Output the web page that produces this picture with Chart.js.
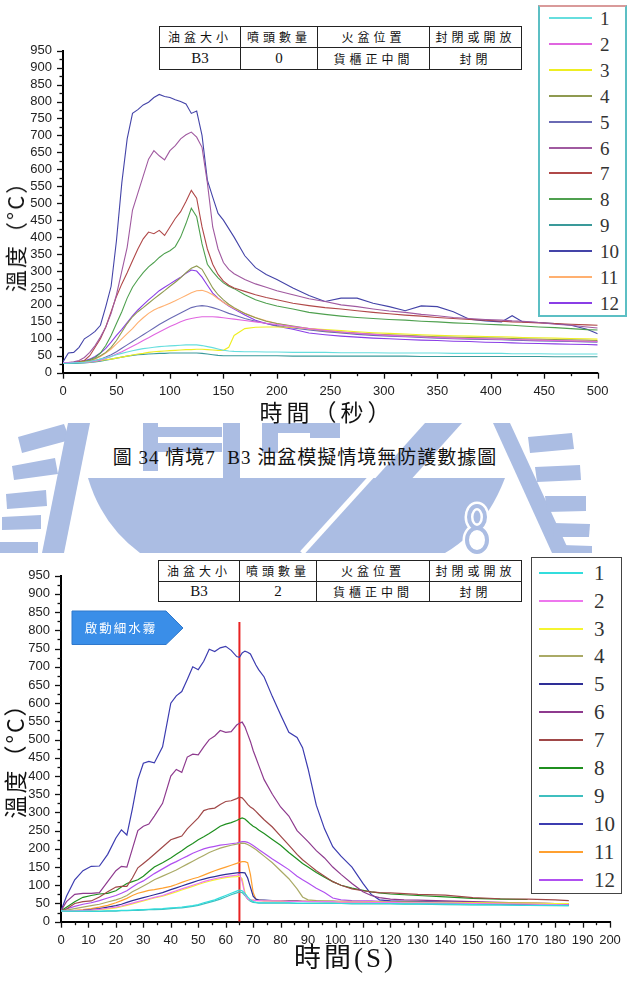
<!DOCTYPE html>
<html><head><meta charset="utf-8">
<script src="https://cdn.jsdelivr.net/npm/chart.js@4.4.1/dist/chart.umd.min.js"></script>
<style>
html,body{margin:0;padding:0;background:#fff;}
#page{position:relative;width:627px;height:991px;overflow:hidden;background:#fff;}
.box{position:absolute;}
table.info{position:absolute;border-collapse:collapse;font-family:"Noto Sans CJK TC",sans-serif;font-size:12px;color:#111;z-index:3;background:#fff;}
table.info td{border:1.5px solid #222;text-align:center;padding:0;letter-spacing:4px;line-height:1;}
table.info td.num{font-family:"Liberation Serif",serif;font-size:15px;letter-spacing:0;}
.legend{position:absolute;background:#fff;z-index:3;box-sizing:border-box;}
.legend .ln{position:absolute;height:2px;}
.legend .lb{position:absolute;font-family:"Liberation Serif",serif;color:#333;line-height:1;transform:translateY(-50%);}
.ttl{position:absolute;white-space:nowrap;line-height:1;color:#111;z-index:3;}
</style>
</head>
<body>
<div id="page">
<svg width="627" height="991" style="position:absolute;left:0;top:0;z-index:0">
 <g fill="#abbde3">
  <polygon points="18,437 64,424 70,440 22,453"/>
  <polygon points="12,466 55,458 58,474 14,480"/>
  <polygon points="6,494 46,490 47,506 7,509"/>
  <polygon points="2,517 41,515 41,529 2,530"/>
  <polygon points="0,542 38,542 38,553 0,553"/>
  <polygon points="68,423 90,423 64,553 42,553"/>
  <rect x="143" y="423" width="15" height="48"/>
  <rect x="158" y="427" width="64" height="10"/>
  <rect x="158" y="443" width="64" height="9"/>
  <rect x="223" y="423" width="17" height="55"/>
  <rect x="262" y="423" width="58" height="10"/>
  <rect x="262" y="433" width="16" height="20"/>
  <rect x="310" y="423" width="30" height="15"/>
  <path d="M88,478 L505,478 Q485,530 445,553 L140,553 Q102,525 88,478 Z"/>
  <polygon points="425,423 462,423 345,553 308,553"/>
  <polygon points="493,423 510,423 570,553 552,553"/>
  <polygon points="528,437 572,433 574,449 530,453"/>
  <polygon points="535,467 580,465 581,480 537,482"/>
  <polygon points="545,496 586,496 586,511 547,512"/>
  <polygon points="553,523 590,524 589,537 554,537"/>
  <polygon points="562,545 592,546 592,553 563,553"/>
 </g>
 <line x1="420" y1="423" x2="302" y2="553" stroke="#fff" stroke-width="5"/>
 <g fill="none" stroke="#fff" stroke-width="9">
  <ellipse cx="477" cy="517" rx="8" ry="11"/>
  <ellipse cx="477" cy="540" rx="10" ry="12"/>
 </g>
 <g fill="none" stroke="#abbde3" stroke-width="4">
  <ellipse cx="477" cy="517" rx="8" ry="11"/>
  <ellipse cx="477" cy="540" rx="10" ry="12"/>
 </g>
</svg>

<div class="box" style="left:0;top:0;width:627px;height:430px;z-index:1"><canvas id="c1"></canvas></div>
<div class="box" style="left:0;top:540px;width:627px;height:451px;z-index:1"><canvas id="c2"></canvas></div>

<table class="info" style="left:159px;top:26px;">
 <tr style="height:21px"><td style="width:80px">油盆大小</td><td style="width:76px">噴頭數量</td><td style="width:111px">火盆位置</td><td style="width:91px">封閉或開放</td></tr>
 <tr style="height:22px"><td class="num">B3</td><td class="num">0</td><td>貨櫃正中間</td><td>封閉</td></tr>
</table>
<table class="info" style="left:158px;top:560px;">
 <tr style="height:21px"><td style="width:80px">油盆大小</td><td style="width:76px">噴頭數量</td><td style="width:112px">火盆位置</td><td style="width:91px">封閉或開放</td></tr>
 <tr style="height:20px"><td class="num">B3</td><td class="num">2</td><td>貨櫃正中間</td><td>封閉</td></tr>
</table>

<div id="leg1" class="legend" style="left:538px;top:5px;width:89px;height:312px;border:2px solid #5cbfc4;border-top-color:#d99a9a;"></div>
<div id="leg2" class="legend" style="left:531px;top:557px;width:91px;height:337px;border:1.5px solid #444;"></div>

<svg width="627" height="991" style="position:absolute;left:0;top:0;z-index:4;pointer-events:none">
 <polygon points="72,611 166,611 183,628 166,644.5 72,644.5" fill="#3a8ee8" stroke="#2f78cc" stroke-width="1"/>
 <text x="121" y="633" fill="#fff" font-family="Noto Sans CJK TC" font-size="12.5" letter-spacing="2" text-anchor="middle">啟動細水霧</text>
</svg>

<div class="ttl" style="left:327px;top:411px;transform:translate(-50%,-50%);font-family:'Noto Sans CJK TC';font-size:23px;letter-spacing:4px;">時間（秒）</div>
<div class="ttl" style="left:14px;top:231px;transform:translate(-50%,-50%) rotate(-90deg);font-family:'Noto Sans CJK TC';font-size:22px;letter-spacing:2px;">溫度（°C）</div>
<div class="ttl" style="left:305px;top:457px;transform:translate(-50%,-50%);font-family:'Liberation Serif','Noto Sans CJK TC';font-size:19px;letter-spacing:1px;">圖 34 情境7&nbsp; B3 油盆模擬情境無防護數據圖</div>
<div class="ttl" style="left:345px;top:958px;transform:translate(-50%,-50%);font-family:'Liberation Serif','Noto Sans CJK TC';font-size:27px;letter-spacing:3px;">時間(S)</div>
<div class="ttl" style="left:14px;top:755px;transform:translate(-50%,-50%) rotate(-90deg);font-family:'Noto Sans CJK TC';font-size:23px;letter-spacing:2px;">溫度（°C）</div>
</div>

<script>
// ---------- Figure 34 (no protection), time in seconds ----------
const times1 = [0,5,10,15,20,25,30,35,40,45,50,55,60,65,70,75,80,85,90,95,100,105,110,115,120,125,130,135,140,145,150,155,160,170,180,190,200,215,230,245,260,275,290,305,320,335,350,365,380,395,410,420,430,445,460,475,490,500];
const a1  = [28,28,29,30,31,33,36,40,44,48,53,57,61,65,68,71,73,75,77,78,79,80,81,82,82,82,80,77,74,70,66,64,63,62,62,61,61,60,60,60,59,59,59,58,58,58,58,57,57,57,57,56,56,56,55,55,55,55];
const a2  = [30,30,30,30,30,32,34,37,42,48,55,62,70,78,86,95,103,112,120,128,136,143,150,156,160,163,165,165,165,164,162,160,158,154,150,146,142,136,130,125,120,116,113,110,108,106,104,102,101,100,99,98,97,96,95,94,93,92];
const a3  = [30,30,30,30,31,32,34,36,38,40,43,46,49,52,55,57,60,62,63,64,65,66,67,68,68,69,69,68,67,66,66,75,110,130,134,135,135,134,130,127,124,121,118,116,114,112,110,109,108,107,106,105,104,103,102,101,100,99];
const a4  = [30,30,30,31,33,36,42,50,60,75,95,120,145,165,180,192,205,218,230,242,255,267,280,295,308,315,305,278,250,230,215,202,192,175,162,152,145,138,130,124,120,117,114,112,110,108,106,105,104,103,102,101,100,99,98,97,96,95];
const a5  = [30,30,30,30,31,33,36,40,46,53,62,72,82,92,102,112,122,132,142,151,160,168,176,184,192,196,198,196,192,187,181,175,170,160,152,145,139,132,126,121,117,113,110,108,106,104,102,100,99,98,97,96,95,94,93,92,91,90];
const a6  = [30,30,32,36,45,60,80,105,135,175,230,300,370,480,530,580,630,655,640,628,655,670,690,702,710,695,665,560,430,365,325,305,292,275,262,252,242,230,218,210,200,195,188,182,178,172,168,163,160,157,155,153,152,148,143,140,135,132];
const a7  = [30,30,31,33,36,50,75,100,135,180,225,262,295,330,365,395,415,410,420,405,430,455,475,505,538,515,430,365,320,290,270,258,250,240,230,222,215,205,198,192,188,183,178,174,170,167,163,160,157,155,152,150,149,147,145,143,141,140];
const a8  = [30,30,30,31,33,38,45,58,80,110,145,180,220,252,275,295,312,325,340,352,360,372,400,440,485,460,380,320,298,280,265,255,248,230,215,205,197,188,178,172,167,163,160,157,155,152,150,147,145,143,141,140,138,135,133,130,127,126];
const a9  = [27,27,27,28,29,30,32,34,37,40,43,46,49,51,53,54,55,56,57,57,58,58,58,58,58,58,57,55,53,51,50,50,50,50,50,50,50,49,49,49,49,49,49,49,49,48,48,48,48,48,48,48,48,48,47,47,47,47];
const a10 = [32,58,60,75,100,110,122,140,195,255,390,560,690,765,776,790,798,812,821,815,812,805,800,793,765,772,700,568,518,470,450,425,400,345,310,290,275,250,228,210,220,220,205,195,183,197,195,180,158,153,150,168,150,148,145,140,128,115];
const a11 = [30,30,30,31,32,35,40,48,58,70,85,100,115,130,148,162,175,185,192,198,205,212,220,228,236,242,243,238,230,218,208,198,190,175,163,153,145,136,128,122,118,115,112,110,108,106,104,103,102,100,99,98,97,96,95,94,93,92];
const a12 = [30,30,30,32,35,40,48,58,72,90,110,128,148,168,185,200,215,228,242,252,262,272,282,293,303,300,282,258,235,220,208,197,188,170,155,145,137,128,117,112,108,105,102,100,98,96,95,93,92,90,89,88,87,86,85,84,83,82];

// ---------- Second figure (2 nozzles, water mist starts at 65 s) ----------
const times2 = [0,2,5,8,11,14,17,20,22,24,26,28,30,32,34,37,40,42,44,46,48,50,52,54,56,58,60,62,64,65,66,67,68,69,70,71,72,74,77,80,83,86,88,90,93,96,99,102,106,110,113,116,120,125,130,140,150,160,170,180,185];
const b1  = [30,29,29,29,29,29,30,30,31,31,32,33,33,34,35,36,38,39,40,42,44,47,52,56,60,66,72,78,84,87,85,78,68,60,55,53,52,52,52,52,52,51,51,51,51,51,51,50,50,50,50,50,50,49,49,48,47,46,45,45,44];
const b2  = [30,30,30,31,32,34,37,40,43,47,51,55,59,63,67,72,80,85,90,95,100,105,110,114,118,121,124,126,128,130,110,75,62,60,59,58,58,57,57,57,56,56,56,55,55,55,55,54,54,54,53,53,53,52,52,51,50,49,48,47,46];
const b3  = [30,30,30,30,31,33,35,38,41,45,49,53,57,61,65,70,77,82,87,92,97,102,107,111,115,118,121,123,124,125,118,80,62,60,59,58,58,57,57,57,56,56,56,56,55,55,55,55,54,54,54,54,53,53,53,52,52,51,51,50,50];
const b4  = [30,32,36,40,44,48,54,60,65,72,82,90,98,106,115,125,135,142,150,158,166,174,182,190,196,202,206,210,213,215,216,215,212,208,203,198,192,180,162,140,118,90,68,60,58,57,57,56,56,55,55,55,54,54,53,53,52,51,51,50,50];
const b5  = [30,30,30,31,33,36,40,44,48,53,58,62,66,70,74,80,88,93,98,103,108,113,117,121,124,127,130,132,134,135,135,134,120,95,70,62,60,59,58,58,57,57,56,56,56,55,55,55,54,54,54,53,53,52,52,51,49,48,47,46,45];
const b6  = [30,55,75,78,78,80,110,140,152,150,200,250,262,268,290,325,400,418,410,452,460,458,480,500,510,525,520,522,540,545,548,535,515,495,470,450,430,390,350,315,290,250,235,220,195,175,150,130,105,82,72,66,62,60,59,57,55,53,51,50,49];
const b7  = [30,35,50,55,57,68,82,95,97,97,120,148,160,172,185,205,225,230,235,255,270,285,305,310,312,322,330,332,338,342,340,332,322,315,310,303,295,280,260,235,210,185,170,158,140,125,110,100,90,85,82,80,79,77,75,73,66,63,62,60,58];
const b8  = [30,40,55,67,72,76,78,85,95,105,110,115,125,138,150,162,175,185,195,206,215,225,233,242,252,262,268,272,278,282,285,282,275,268,262,258,252,242,226,210,190,172,160,150,135,122,110,100,92,86,82,79,76,74,72,68,64,62,61,null,null];
const b9  = [29,28,28,28,28,28,29,29,30,30,31,31,32,33,33,34,36,37,38,40,42,45,49,53,57,62,68,74,79,82,80,72,62,56,53,52,51,51,51,51,51,50,50,50,50,50,50,50,49,49,49,49,49,48,48,47,46,46,45,44,44];
const b10 = [30,70,115,140,152,153,185,230,252,238,310,390,435,440,436,480,600,620,632,665,700,692,715,748,742,752,756,745,728,726,738,743,740,735,720,705,692,672,618,568,520,506,478,420,320,255,206,180,150,105,75,60,57,56,55,54,52,51,50,49,48];
const b11 = [30,30,31,33,36,40,45,52,58,64,72,78,82,86,88,92,97,102,108,113,118,122,128,134,140,145,150,155,160,163,165,165,162,130,80,62,59,58,58,57,57,57,56,56,56,56,55,55,55,55,54,54,54,54,53,53,52,51,50,50,50];
const b12 = [30,35,42,48,52,58,65,72,78,85,95,105,112,122,132,145,158,165,173,180,188,194,200,204,207,210,212,214,216,218,220,220,218,214,209,204,198,188,172,158,143,125,115,106,92,80,65,60,58,57,57,56,56,55,55,54,53,52,51,50,49];

const sprayTime = 65;       // 啟動細水霧
const sprayLineTop = 823;

const seriesLabels = ['1','2','3','4','5','6','7','8','9','10','11','12'];
const colors1 = ['#66dede','#e066e0','#eeee22','#8f9a50','#6a6ab4','#a05aa0','#b04848','#4fa04f','#3a9a9a','#4444a8','#ffb070','#8a3ee6'];
const colors2 = ['#33dddd','#ee77ee','#f5f530','#aaaa66','#2e2e96','#8e3a8e','#a04848','#1f8f1f','#3fbfbf','#3c3cb0','#ffa030','#b050f0'];

const yTickValues = {min:0, max:950, major:50, minor:25};
const x1Ticks = {min:0, max:500, major:50, minor:25};
const x2Ticks = {min:0, max:200, major:10, minor:5};

const series1 = [a1,a2,a3,a4,a5,a6,a7,a8,a9,a10,a11,a12];
const series2 = [b1,b2,b3,b4,b5,b6,b7,b8,b9,b10,b11,b12];

const minorTicks = {
  id: 'minorTicks',
  afterDraw(chart, args, o) {
    const ctx = chart.ctx, a = chart.chartArea;
    const xs = chart.scales.x, ys = chart.scales.y;
    ctx.save();
    ctx.strokeStyle = '#111';
    ctx.lineWidth = 1.3;
    const isMajor = (v, m) => Math.abs(v / m - Math.round(v / m)) < 1e-6;
    for (let v = o.x.min; v <= o.x.max + 1e-9; v += o.x.minor) {
      const px = Math.round(xs.getPixelForValue(v)) + 0.5;
      ctx.beginPath(); ctx.moveTo(px, a.bottom); ctx.lineTo(px, a.bottom + (isMajor(v, o.x.major) ? 6 : 3.5)); ctx.stroke();
    }
    for (let v = o.y.min; v <= o.y.max + 1e-9; v += o.y.minor) {
      const py = Math.round(ys.getPixelForValue(v)) + 0.5;
      ctx.beginPath(); ctx.moveTo(a.left, py); ctx.lineTo(a.left - (isMajor(v, o.y.major) ? 6 : 3.5), py); ctx.stroke();
    }
    ctx.restore();
  }
};

function axisCommon(t, pad) {
  return {
    type: 'linear', min: t.min, max: t.max,
    ticks: {stepSize: t.major, autoSkip: false, maxRotation: 0, padding: pad, color: '#222',
            font: {family: '"Liberation Sans", Arial, sans-serif', size: 13}},
    grid: {display: true, drawOnChartArea: false, drawTicks: true, tickLength: 6, color: 'rgba(0,0,0,0)'},
    border: {display: true, color: '#000', width: 2}
  };
}

function build(id, times, series, colors, xt, layout, extra, lw) {
  const datasets = series.map((s, i) => ({
    label: seriesLabels[i],
    data: times.map((t, k) => ({x: t, y: s[k]})),
    borderColor: colors[i], borderWidth: lw, pointRadius: 0, tension: 0, fill: false, spanGaps: false
  }));
  if (extra) datasets.push(extra);
  const xAxis = axisCommon(xt, 5); xAxis.afterFit = s => { s.height = layout.xh; };
  const yAxis = axisCommon(yTickValues, 5); yAxis.afterFit = s => { s.width = layout.yw; };
  return new Chart(document.getElementById(id), {
    type: 'line',
    data: {datasets},
    options: {
      responsive: true, maintainAspectRatio: false, animation: false, devicePixelRatio: 1,
      layout: {padding: {left: 0, top: layout.top, right: layout.right, bottom: 0}},
      plugins: {legend: {display: false}, tooltip: {enabled: false}, minorTicks: {x: xt, y: yTickValues}},
      scales: {x: xAxis, y: yAxis}
    },
    plugins: [minorTicks]
  });
}

build('c1', times1, series1, colors1, x1Ticks, {top: 50.7, right: 29.3, xh: 57.3, yw: 63}, null, 1.1);
build('c2', times2, series2, colors2, x2Ticks, {top: 35.7, right: 17, xh: 69.3, yw: 61},
  {label: 'spray', data: [{x: sprayTime, y: 0}, {x: sprayTime, y: sprayLineTop}], borderColor: '#e82222', borderWidth: 2, pointRadius: 0}, 1.2);

function legend(id, colors, first, step, lx, lw, tx, fs) {
  const el = document.getElementById(id);
  const r = el.getBoundingClientRect();
  const bw = parseFloat(getComputedStyle(el).borderLeftWidth);
  const bt = parseFloat(getComputedStyle(el).borderTopWidth);
  seriesLabels.forEach((lab, i) => {
    const y = Math.round(first + i * step - r.top - bt);
    const ln = document.createElement('div');
    ln.className = 'ln';
    ln.style.cssText = `left:${Math.round(lx - r.left - bw)}px;top:${y - 1}px;width:${lw}px;background-color:${colors[i]}`;
    el.appendChild(ln);
    const t = document.createElement('div');
    t.className = 'lb';
    t.textContent = lab;
    t.style.cssText = `left:${Math.round(tx - r.left - bw)}px;top:${y}px;font-size:${fs}px`;
    el.appendChild(t);
  });
}
legend('leg1', colors1, 18.3, 25.85, 549, 43, 600, 19);
legend('leg2', colors2, 572.7, 27.9, 539, 44, 594, 21);
</script>
</body></html>
